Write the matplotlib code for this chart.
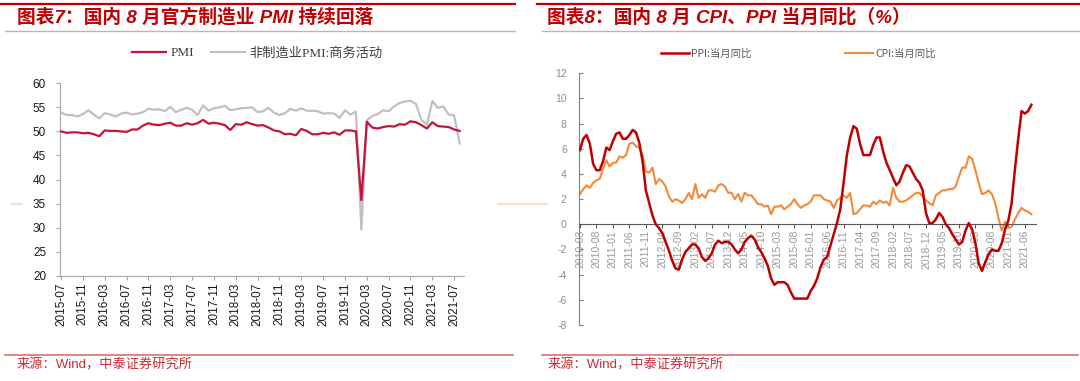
import numpy as np
import pandas as pd
import matplotlib
matplotlib.use("Agg")
import matplotlib.pyplot as plt
from matplotlib.lines import Line2D

plt.rcParams['font.family'] = ['Liberation Sans', 'Noto Sans CJK SC']
plt.rcParams['axes.unicode_minus'] = False

W, H = 1080, 381

# ---- left chart: official PMI, 2015-07 .. 2021-08
pmi_months = pd.period_range('2015-07', '2021-08', freq='M').strftime('%Y-%m').tolist()
pmi = [50.0, 49.7, 49.8, 49.8, 49.6, 49.7,
       49.4, 49.0, 50.2, 50.1, 50.1, 50.0, 49.9, 50.4, 50.4, 51.2, 51.7, 51.4,
       51.3, 51.6, 51.8, 51.2, 51.2, 51.7, 51.4, 51.7, 52.4, 51.6, 51.8, 51.6,
       51.3, 50.3, 51.5, 51.4, 51.9, 51.5, 51.2, 51.3, 50.8, 50.2, 50.0, 49.4,
       49.5, 49.2, 50.5, 50.1, 49.4, 49.4, 49.7, 49.5, 49.8, 49.3, 50.2, 50.2,
       50.0, 35.7, 52.0, 50.8, 50.6, 50.9, 51.1, 51.0, 51.5, 51.4, 52.1, 51.9,
       51.3, 50.6, 51.9, 51.1, 51.0, 50.9, 50.4, 50.1]
non_mfg = [53.9, 53.4, 53.4, 53.1, 53.6, 54.4,
           53.5, 52.7, 53.8, 53.5, 53.1, 53.7, 53.9, 53.5, 53.7, 54.0, 54.7, 54.5,
           54.6, 54.2, 55.1, 54.0, 54.5, 54.9, 54.5, 53.4, 55.4, 54.3, 54.8, 55.0,
           55.3, 54.4, 54.6, 54.8, 54.9, 55.0, 54.0, 54.2, 54.9, 53.9, 53.4, 53.8,
           54.7, 54.3, 54.8, 54.3, 54.3, 54.2, 53.7, 53.8, 53.7, 52.8, 54.4, 53.5,
           54.1, 29.6, 52.3, 53.2, 53.6, 54.4, 54.2, 55.2, 55.9, 56.2, 56.4, 55.7,
           52.4, 51.4, 56.3, 54.9, 55.2, 53.5, 53.3, 47.5]

# ---- right chart: CPI / PPI yoy, 2010-03 .. 2021-08
cpi_months = pd.period_range('2010-03', '2021-08', freq='M').strftime('%Y-%m').tolist()
ppi = [5.9, 6.8, 7.1, 6.4, 4.8, 4.3, 4.3, 5.0, 6.1, 5.9,
       6.6, 7.2, 7.3, 6.8, 6.8, 7.1, 7.5, 7.3, 6.5, 5.0, 2.7, 1.7,
       0.7, 0.0, -0.3, -0.7, -1.4, -2.1, -2.9, -3.5, -3.6, -2.8, -2.2, -1.9,
       -1.6, -1.6, -1.9, -2.6, -2.9, -2.7, -2.3, -1.6, -1.3, -1.5, -1.4, -1.4,
       -1.6, -2.0, -2.3, -2.0, -1.4, -1.1, -0.9, -1.2, -1.8, -2.2, -2.7, -3.3,
       -4.3, -4.8, -4.6, -4.6, -4.6, -4.8, -5.4, -5.9, -5.9, -5.9, -5.9, -5.9,
       -5.3, -4.9, -4.3, -3.4, -2.8, -2.6, -1.7, -0.8, 0.1, 1.2, 3.3, 5.5,
       6.9, 7.8, 7.6, 6.4, 5.5, 5.5, 5.5, 6.3, 6.9, 6.9, 5.8, 4.9,
       4.3, 3.7, 3.1, 3.4, 4.1, 4.7, 4.6, 4.1, 3.6, 3.3, 2.7, 0.9,
       0.1, 0.1, 0.4, 0.9, 0.6, 0.0, -0.3, -0.8, -1.2, -1.6, -1.4, -0.5,
       0.1, -0.4, -1.5, -3.1, -3.7, -3.0, -2.4, -2.0, -2.1, -2.1, -1.5, -0.4,
       0.3, 1.7, 4.4, 6.8, 9.0, 8.8, 9.0, 9.5]
cpi = [2.4, 2.8, 3.1, 2.9, 3.3, 3.5, 3.6, 4.4, 5.1, 4.6,
       4.9, 4.9, 5.4, 5.3, 5.5, 6.4, 6.5, 6.2, 6.1, 5.5, 4.2, 4.1,
       4.5, 3.2, 3.6, 3.4, 3.0, 2.2, 1.8, 2.0, 1.9, 1.7, 2.0, 2.5,
       2.0, 3.2, 2.1, 2.4, 2.1, 2.7, 2.7, 2.6, 3.1, 3.2, 3.0, 2.5,
       2.5, 2.0, 2.4, 1.8, 2.5, 2.3, 2.3, 2.0, 1.6, 1.6, 1.4, 1.5,
       0.8, 1.4, 1.4, 1.5, 1.2, 1.4, 1.6, 2.0, 1.6, 1.3, 1.5, 1.6,
       1.8, 2.3, 2.3, 2.3, 2.0, 1.9, 1.8, 1.3, 1.9, 2.1, 2.3, 2.1,
       2.5, 0.8, 0.9, 1.2, 1.5, 1.5, 1.4, 1.8, 1.6, 1.9, 1.7, 1.8,
       1.5, 2.9, 2.1, 1.8, 1.8, 1.9, 2.1, 2.3, 2.5, 2.5, 2.2, 1.9,
       1.7, 1.5, 2.3, 2.5, 2.7, 2.7, 2.8, 2.8, 3.0, 3.8, 4.5, 4.5,
       5.4, 5.2, 4.3, 3.3, 2.4, 2.5, 2.7, 2.4, 1.7, 0.5, -0.5, 0.2,
       -0.3, -0.2, 0.4, 0.9, 1.3, 1.1, 1.0, 0.8]

RED = '#C00000'


def px_line(x0, x1, y0, y1, color, lw):
    fig.add_artist(Line2D([x0 / W, x1 / W], [1 - y0 / H, 1 - y1 / H],
                          color=color, lw=lw, transform=fig.transFigure))


fig = plt.figure(figsize=(W / 100, H / 100), dpi=100)

# header / footer decorations
for a, b in [(0, 515), (537, 1080)]:
    px_line(a, b, 3.5, 3.5, RED, 1.6)
    px_line(a + 5, b, 31, 31, '#E9A3A3', 1.0)
    px_line(a + 5, b - 2, 354.5, 354.5, '#E07A7A', 1.3)
px_line(12, 22, 204, 204, '#F9DCCB', 1.5)
px_line(498, 547, 204, 204, '#F9DCCB', 1.5)

fig.text(17 / W, 1 - 17 / H, '图表7：国内 8 月官方制造业 PMI 持续回落', color=RED,
         fontsize=13.5, fontweight='bold', fontstyle='italic', va='center')
fig.text(547 / W, 1 - 17 / H, '图表8：国内 8 月 CPI、PPI 当月同比（%）', color=RED,
         fontsize=13.5, fontweight='bold', fontstyle='italic', va='center')
fig.text(17 / W, 1 - 365 / H, '来源：Wind，中泰证券研究所', color='#CC2B33',
         fontsize=9.5, va='center')
fig.text(548 / W, 1 - 365 / H, '来源：Wind，中泰证券研究所', color='#CC2B33',
         fontsize=9.5, va='center')

# ---------------- left chart
ax1 = fig.add_axes([60 / W, 1 - 275.7 / H, 404 / W, 192.4 / H])
x1 = np.arange(len(pmi_months))
ax1.plot(x1, non_mfg, color='#C0C0C0', lw=1.6, label='非制造业PMI:商务活动', zorder=2)
ax1.plot(x1, pmi, color='#C4143C', lw=1.6, label='PMI', zorder=3)
ax1.set_ylim(20, 60)
ax1.set_xlim(-0.2, 73.8)
ax1.set_yticks(range(20, 61, 5))
ax1.set_xticks(x1[::4])
ax1.set_xticklabels(pmi_months[::4], rotation=90)
for s in ['top', 'right']:
    ax1.spines[s].set_visible(False)
for s in ['left', 'bottom']:
    ax1.spines[s].set_color('#A6A6A6')
ax1.tick_params(axis='both', colors='#A6A6A6', labelcolor='#1a1a1a', labelsize=8.5,
                length=3, direction='out')
ax1.tick_params(axis='y', pad=7)
ax1.tick_params(axis='x', pad=2)
h, l = ax1.get_legend_handles_labels()
ax1.legend(h[::-1], l[::-1], ncol=2, loc='center', bbox_to_anchor=(0.488, 1.157),
           frameon=False, handlelength=2.6, columnspacing=1.3, handletextpad=0.3,
           prop={'family': ['Liberation Serif', 'Noto Sans CJK SC'], 'size': 9.5},
           labelcolor='#404040')

# ---------------- right chart
ax2 = fig.add_axes([579.3 / W, 1 - 325 / H, 456.4 / W, 251.7 / H])
ax2.spines['bottom'].set_position(('data', 0))
x2 = np.arange(len(cpi_months))
ax2.plot(x2, ppi, color=RED, lw=1.8, label='PPI:当月同比', zorder=3)
ax2.plot(x2, cpi, color='#F28A3A', lw=1.5, label='CPI:当月同比', zorder=2)
ax2.set_ylim(-8, 12)
ax2.set_xlim(-0.2, 138.3)
ax2.set_yticks(range(-8, 13, 2))
ax2.set_xticks(x2[::5])
ax2.set_xticklabels(cpi_months[::5])
for s in ['top', 'right']:
    ax2.spines[s].set_visible(False)
ax2.spines['bottom'].set_color('#595959')
ax2.spines['left'].set_color('#7F7F7F')
ax2.tick_params(axis='y', direction='in', length=3, colors='#7F7F7F',
                labelcolor='#8C8C8C', labelsize=7.5, pad=9)
ax2.tick_params(axis='x', direction='out', length=3, colors='#595959',
                labelcolor='#999999', labelsize=7.5, pad=1, labelrotation=90)
ax2.legend(ncol=2, loc='center', bbox_to_anchor=(0.48, 1.077), frameon=False,
           handlelength=2.7, columnspacing=9, handletextpad=0.2,
           prop={'family': ['Noto Sans CJK SC'], 'size': 7.5}, labelcolor='#595959')

fig.savefig('out.png', dpi=100)
